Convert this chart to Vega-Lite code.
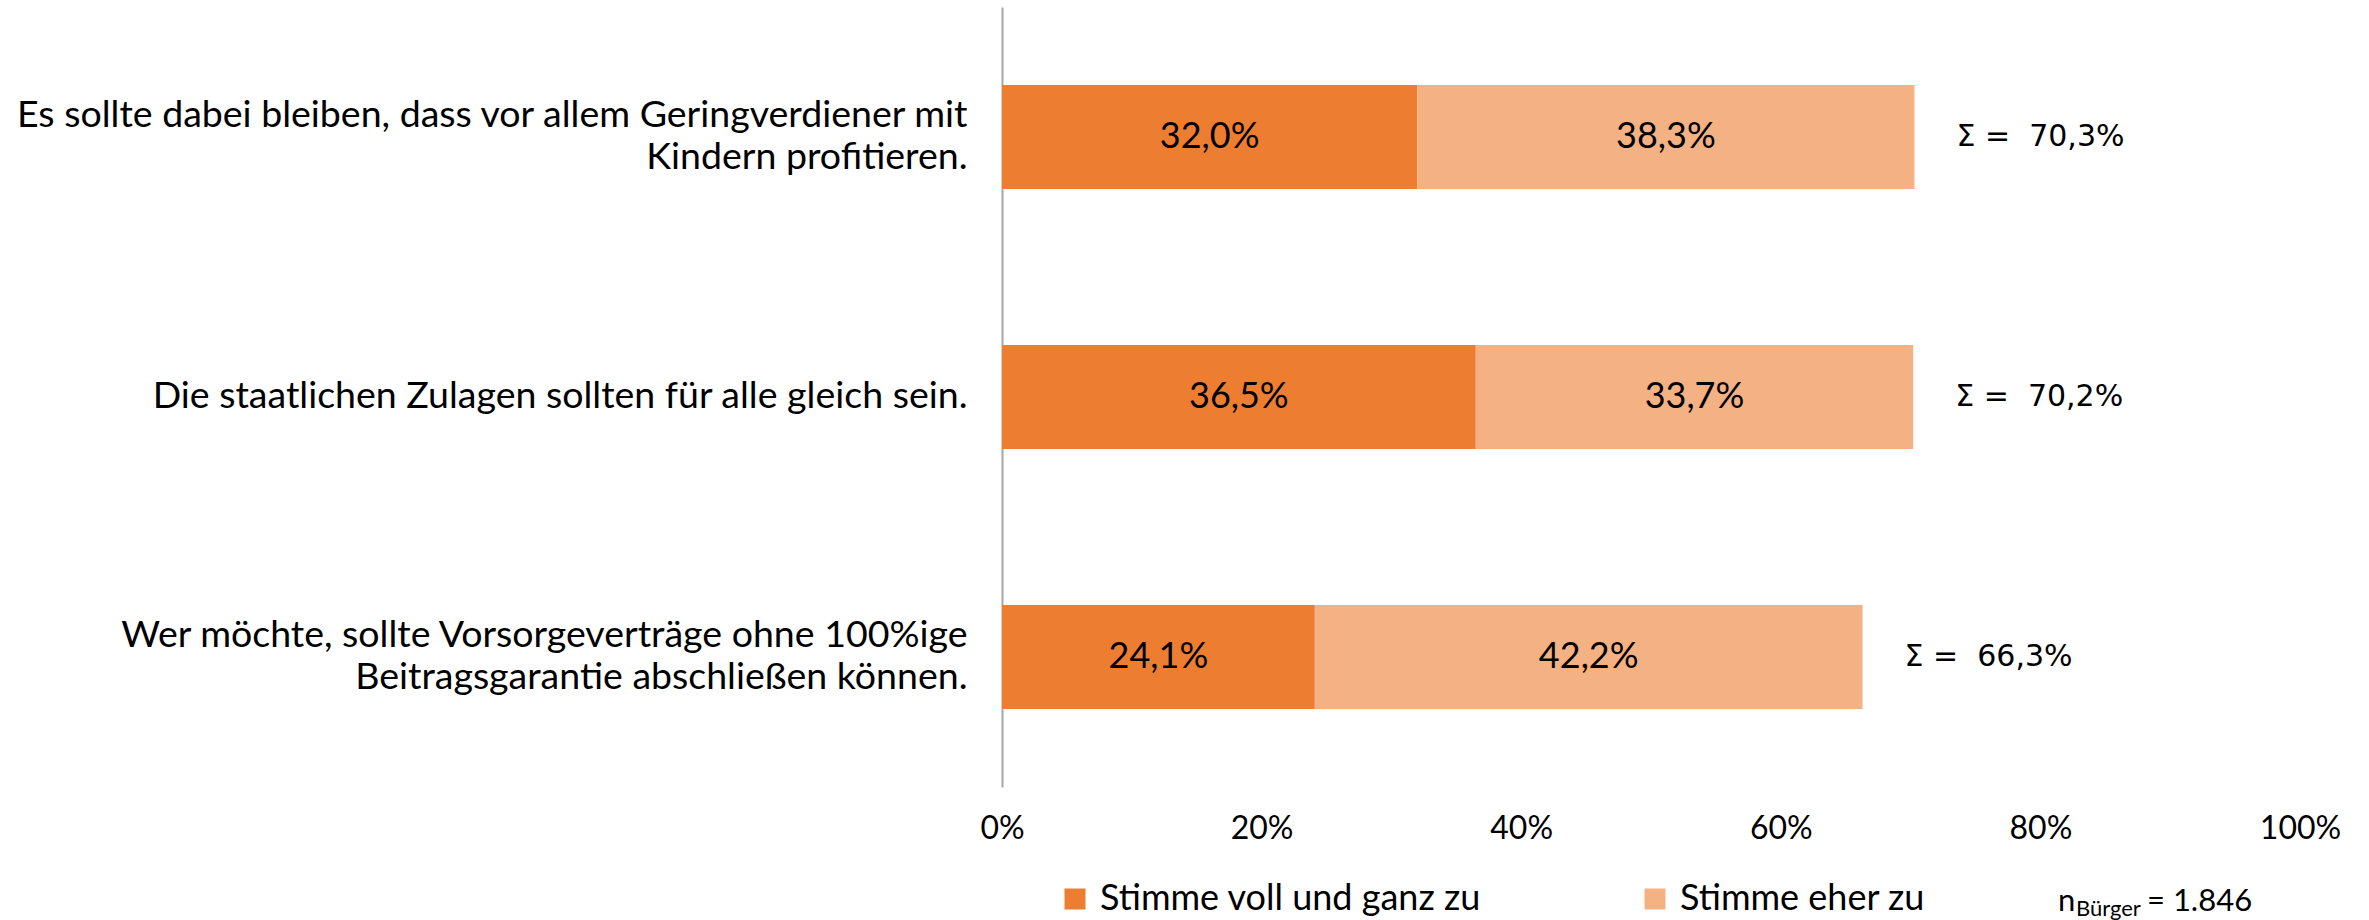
{
  "$schema": "https://vega.github.io/schema/vega-lite/v6.json",
  "width": 1298,
  "height": 780,
  "autosize": {"type": "none"},
  "padding": {"left": 1002, "top": 7, "right": 69, "bottom": 133},
  "background": "white",
  "config": {
    "view": {"stroke": null},
    "font": "Lato",
    "locale": {"number": {"decimal": ",", "thousands": ".", "grouping": [3], "currency": ["", " €"]}}
  },
  "data": {
    "values": [
      {"frage": "Es sollte dabei bleiben, dass vor allem Geringverdiener mit|Kindern profitieren.", "kategorie": "Stimme voll und ganz zu", "wert": 0.320},
      {"frage": "Es sollte dabei bleiben, dass vor allem Geringverdiener mit|Kindern profitieren.", "kategorie": "Stimme eher zu", "wert": 0.383},
      {"frage": "Die staatlichen Zulagen sollten für alle gleich sein.", "kategorie": "Stimme voll und ganz zu", "wert": 0.365},
      {"frage": "Die staatlichen Zulagen sollten für alle gleich sein.", "kategorie": "Stimme eher zu", "wert": 0.337},
      {"frage": "Wer möchte, sollte Vorsorgeverträge ohne 100%ige|Beitragsgarantie abschließen können.", "kategorie": "Stimme voll und ganz zu", "wert": 0.241},
      {"frage": "Wer möchte, sollte Vorsorgeverträge ohne 100%ige|Beitragsgarantie abschließen können.", "kategorie": "Stimme eher zu", "wert": 0.422}
    ]
  },
  "transform": [
    {"calculate": "indexof(['Stimme voll und ganz zu','Stimme eher zu'], datum.kategorie)", "as": "ord"},
    {"stack": "wert", "groupby": ["frage"], "sort": [{"field": "ord"}], "as": ["x0", "x1"]},
    {"calculate": "(datum.x0 + datum.x1) / 2", "as": "xm"}
  ],
  "encoding": {
    "y": {
      "field": "frage",
      "type": "nominal",
      "sort": null,
      "scale": {"paddingInner": 0.6, "paddingOuter": 0.3},
      "axis": {
        "title": null,
        "ticks": false,
        "domainColor": "#A6A6A6",
        "domainWidth": 2,
        "labelFontSize": 37.5,
        "labelColor": "#000000",
        "labelPadding": 35,
        "labelLineHeight": 42,
        "labelLimit": 1200,
        "labelOffset": -21,
        "labelBaseline": {"condition": {"test": "indexof(datum.value, '|') >= 0", "value": "middle"}, "value": "line-top"},
        "labelExpr": "split(datum.label, '|')"
      }
    }
  },
  "layer": [
    {
      "mark": {"type": "bar"},
      "encoding": {
        "x": {
          "field": "x0",
          "type": "quantitative",
          "scale": {"domain": [0, 1], "nice": false},
          "axis": {
            "title": null,
            "format": ".0%",
            "values": [0, 0.2, 0.4, 0.6, 0.8, 1],
            "domain": false,
            "ticks": false,
            "grid": false,
            "labelFontSize": 32,
            "labelColor": "#000000",
            "labelPadding": 26,
            "labelFlush": false
          }
        },
        "x2": {"field": "x1"},
        "color": {
          "field": "kategorie",
          "type": "nominal",
          "scale": {"domain": ["Stimme voll und ganz zu", "Stimme eher zu"], "range": ["#ED7D31", "#F4B183"]},
          "legend": {
            "title": null,
            "orient": "none",
            "legendX": 55,
            "legendY": 874,
            "direction": "horizontal",
            "symbolType": "square",
            "symbolSize": 441,
            "symbolStrokeWidth": 0,
            "labelFontSize": 36,
            "labelColor": "#000000",
            "labelOffset": 7,
            "labelLimit": 1000,
            "columnPadding": 155,
            "padding": 0
          }
        }
      }
    },
    {
      "mark": {"type": "text", "font": "Lato", "fontSize": 36, "color": "#000000"},
      "encoding": {
        "x": {"field": "xm", "type": "quantitative"},
        "text": {"field": "wert", "type": "quantitative", "format": ".1%"}
      }
    },
    {
      "transform": [
        {"aggregate": [{"op": "sum", "field": "wert", "as": "summe"}], "groupby": ["frage"]},
        {"calculate": "'Σ =\u00a0\u00a0' + format(datum.summe, '.1%')", "as": "summentext"}
      ],
      "mark": {"type": "text", "font": "DejaVu Sans", "fontSize": 30, "color": "#000000", "align": "left", "dx": 42},
      "encoding": {
        "x": {"field": "summe", "type": "quantitative"},
        "text": {"field": "summentext"}
      }
    },
    {
      "data": {"values": [{"t": "n"}]},
      "mark": {"type": "text", "font": "Lato", "fontSize": 31, "color": "#000000", "align": "left", "baseline": "alphabetic", "dy": 254},
      "encoding": {
        "x": {"datum": 0.8136, "type": "quantitative"},
        "y": {"datum": "Wer möchte, sollte Vorsorgeverträge ohne 100%ige|Beitragsgarantie abschließen können."},
        "text": {"field": "t"}
      }
    },
    {
      "data": {"values": [{"t": "Bürger"}]},
      "mark": {"type": "text", "font": "Lato", "fontSize": 22, "color": "#000000", "align": "left", "baseline": "alphabetic", "dy": 259},
      "encoding": {
        "x": {"datum": 0.8274, "type": "quantitative"},
        "y": {"datum": "Wer möchte, sollte Vorsorgeverträge ohne 100%ige|Beitragsgarantie abschließen können."},
        "text": {"field": "t"}
      }
    },
    {
      "data": {"values": [{"t": "= 1.846"}]},
      "mark": {"type": "text", "font": "Lato", "fontSize": 31, "color": "#000000", "align": "left", "baseline": "alphabetic", "dy": 254},
      "encoding": {
        "x": {"datum": 0.8821, "type": "quantitative"},
        "y": {"datum": "Wer möchte, sollte Vorsorgeverträge ohne 100%ige|Beitragsgarantie abschließen können."},
        "text": {"field": "t"}
      }
    }
  ]
}
